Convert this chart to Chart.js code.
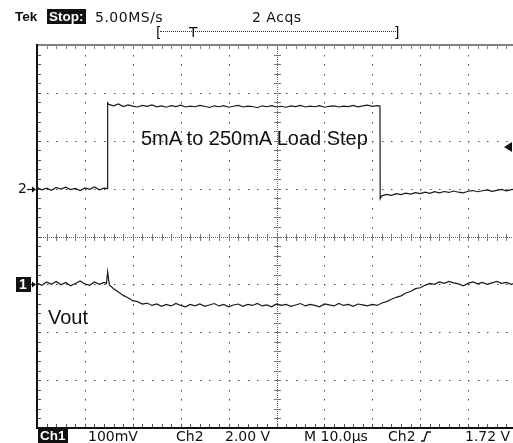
<!DOCTYPE html>
<html>
<head>
<meta charset="utf-8">
<title>Load step response</title>
<script src="https://cdn.jsdelivr.net/npm/chart.js@4.4.0/dist/chart.umd.min.js"></script>
<style>
  html, body { margin: 0; padding: 0; background: #fff; overflow: hidden; }
  #wrap { position: relative; width: 513px; height: 443px; overflow: hidden; }
  #scope { position: absolute; left: 0; top: 0; }
  .ro { position: absolute; font-family: "DejaVu Sans", sans-serif; font-size: 14px; line-height: 14px;
        color: #111; white-space: nowrap; }
  .wide { letter-spacing: 0.5px; }
  .bold { font-family: "Liberation Sans", Arial, sans-serif; font-weight: bold; font-size: 13.5px; }
  .inv { background: #111; color: #fff; padding: 1px 2px 0 2px; }
  .note { position: absolute; font-family: "Liberation Sans", Arial, sans-serif; font-size: 20px;
          line-height: 20px; color: #111; white-space: nowrap; }
  #recbar { position: absolute; left: 160px; top: 31px; width: 236px; border-top: 1px dotted #333; }
</style>
</head>
<body>
<div id="wrap">
  <canvas id="scope" width="530" height="443"></canvas>

  <div class="ro bold" style="left:15px; top:10px;">Tek</div>
  <div class="ro bold inv" style="left:47px; top:9px;">Stop:</div>
  <div class="ro wide" style="left:95px; top:10px;">5.00MS/s</div>
  <div class="ro wide" style="left:252px; top:10px;">2 Acqs</div>
  <div class="ro" style="left:156px; top:25px;">[</div>
  <div id="recbar"></div>
  <div class="ro" style="left:189px; top:25px;">T</div>
  <div class="ro" style="left:394px; top:25px;">]</div>

  <div class="note" style="left:141px; top:128px;">5mA to 250mA Load Step</div>
  <div class="note" style="left:48px; top:307px;">Vout</div>

  <div class="ro bold inv" style="left:38px; top:428px;">Ch1</div>
  <div class="ro" style="left:88px; top:429px;">100mV</div>
  <div class="ro" style="left:176px; top:429px;">Ch2</div>
  <div class="ro" style="left:225px; top:429px;">2.00 V</div>
  <div class="ro" style="left:304px; top:429px;">M 10.0µs</div>
  <div class="ro" style="left:388px; top:429px;">Ch2</div>
  <div class="ro" style="left:465px; top:429px;">1.72 V</div>
</div>

<script>
// time base: 10 µs/div, 10 divisions across the screen
const timeMin = 0;
const timeMax = 100;

// Ch1 (Vout), 100 mV/div, values relative to the Ch1 ground marker
const ch1Time = [
  0, 1, 2, 3, 4, 5, 6, 7, 8, 9, 10, 11, 12, 13, 14, 14.5, 14.75, 15.1,
  16, 17, 18, 19, 20, 21, 22, 23, 24, 25, 26, 27, 28, 29, 30, 31, 32, 33, 34, 35,
  36, 37, 38, 39, 40, 41, 42, 43, 44, 45, 46, 47, 48, 49, 50, 51, 52, 53, 54, 55,
  56, 57, 58, 59, 60, 61, 62, 63, 64, 65, 66, 67, 68, 69, 70, 71,
  72, 73, 74, 75, 76, 77, 78, 79, 80, 81, 82, 83, 84, 85, 86, 87, 88, 89, 90, 91,
  92, 93, 94, 95, 96, 97, 98, 99, 100
];
const ch1Millivolts = [
  3, -2, 5, 0, 6, -1, 4, -3, 2, 7, 1, -2, 5, 0, 4, 2, 26, -1,
  -9, -16, -23, -28, -34, -36, -41, -39, -44, -41, -46, -42, -45, -40, -44, -47, -42, -45, -41, -46,
  -43, -40, -45, -42, -47, -43, -41, -46, -42, -44, -40, -45, -43, -47, -41, -44, -42, -46, -43, -40,
  -45, -42, -44, -47, -41, -43, -45, -40, -44, -42, -46, -41, -43, -45, -42, -44,
  -39, -36, -31, -27, -24, -18, -15, -9, -7, -2, 2, 0, 5, 2, 6, 3, 1, -3, 2, 5,
  1, 4, 0, 3, 6, 2, 4, 0, 3
];

// Ch2 (load step drive), 2 V/div, values relative to the Ch2 ground marker
const ch2Time = [
  0, 1, 2, 3, 4, 5, 6, 7, 8, 9, 10, 11, 12, 13, 14, 14.7, 14.75,
  15, 16, 17, 18, 19, 20, 21, 22, 23, 24, 25, 26, 27, 28, 29, 30, 31, 32, 33, 34,
  35, 36, 37, 38, 39, 40, 41, 42, 43, 44, 45, 46, 47, 48, 49, 50, 51, 52, 53, 54,
  55, 56, 57, 58, 59, 60, 61, 62, 63, 64, 65, 66, 67, 68, 69, 70, 71, 71.6, 71.65,
  72, 73, 74, 75, 76, 77, 78, 79, 80, 81, 82, 83, 84, 85, 86, 87, 88, 89, 90, 91,
  92, 93, 94, 95, 96, 97, 98, 99, 100
];
const ch2Volts = [
  0.04, -0.05, 0.02, -0.07, 0.05, -0.02, 0.06, -0.04, 0.01, -0.08, 0.03, -0.03, 0.07, -0.05, 0.02, 0.0, 3.58,
  3.52, 3.46, 3.54, 3.43, 3.50, 3.45, 3.41, 3.48, 3.44, 3.50, 3.42, 3.46, 3.40, 3.47, 3.43, 3.49, 3.41, 3.45, 3.42, 3.48,
  3.44, 3.39, 3.46, 3.42, 3.47, 3.40, 3.44, 3.48, 3.41, 3.45, 3.43, 3.38, 3.46, 3.42, 3.47, 3.41, 3.44, 3.40, 3.46, 3.43,
  3.48, 3.41, 3.45, 3.42, 3.47, 3.40, 3.44, 3.46, 3.41, 3.45, 3.43, 3.48, 3.42, 3.46, 3.49, 3.44, 3.47, 3.45, -0.42,
  -0.30, -0.24, -0.28, -0.21, -0.25, -0.19, -0.23, -0.17, -0.21, -0.15, -0.20, -0.13, -0.18, -0.12, -0.16, -0.10, -0.15, -0.18, -0.11, -0.08,
  -0.13, -0.09, -0.05, -0.11, -0.07, -0.03, -0.09, -0.04, -0.02
];

// vertical ranges put each channel's ground marker on its graticule line
const ch1Range = { min: -300, max: 500 };  // 8 div x 100 mV
const ch2Range = { min: -10, max: 6 };     // 8 div x 2 V
const triggerLevel = 1.72;                 // Ch2 rising edge

const toPoints = (xs, ys) => xs.map((x, i) => ({ x: x, y: ys[i] }));

// dotted scope graticule: 10 x 8 divisions, 5 minor steps each
const graticule = {
  id: 'graticule',
  beforeDatasetsDraw(chart) {
    const { ctx, chartArea: a, scales } = chart;
    const xs = scales.x, ys = scales.yCh1;
    const minorX = (a.right - a.left) / 50;
    const minorY = (a.bottom - a.top) / 40;
    const cx = Math.round(xs.getPixelForValue(50));
    const cy = Math.round(ys.getPixelForValue(100));
    ctx.save();

    // major division lines as dots on every minor step
    ctx.fillStyle = '#444';
    [10, 20, 30, 40, 60, 70, 80, 90].forEach(t => {
      const x = Math.round(xs.getPixelForValue(t));
      for (let k = 1; k < 40; k++) ctx.fillRect(x, Math.round(a.top + k * minorY), 1, 1.5);
    });
    [-200, -100, 0, 200, 300, 400].forEach(v => {
      const y = Math.round(ys.getPixelForValue(v));
      for (let k = 1; k < 50; k++) ctx.fillRect(Math.round(a.left + k * minorX), y, 1.5, 1);
    });

    // center cross: fine dots plus minor ticks
    ctx.fillStyle = '#666';
    for (let y = a.top; y < a.bottom; y += 2) ctx.fillRect(cx, y, 1, 1);
    for (let x = a.left; x < a.right; x += 2) ctx.fillRect(x, cy, 1, 1);
    ctx.fillStyle = '#777';
    for (let k = 1; k < 40; k++) ctx.fillRect(cx - 3, Math.round(a.top + k * minorY), 7, 1);
    for (let k = 1; k < 50; k++) ctx.fillRect(Math.round(a.left + k * minorX), cy - 3, 1, 7);

    // frame with edge ticks
    ctx.fillStyle = '#808080';
    ctx.fillRect(a.left, a.top - 1, a.right - a.left, 2);
    for (let k = 1; k < 50; k++) ctx.fillRect(Math.round(a.left + k * minorX), a.top, 1, 4);
    ctx.fillStyle = '#111';
    ctx.fillRect(a.left - 1, a.top - 1, 2, a.bottom - a.top + 2);
    ctx.fillRect(a.left, a.bottom - 1, a.right - a.left, 2);
    ctx.fillStyle = '#555';
    for (let k = 1; k < 50; k++) ctx.fillRect(Math.round(a.left + k * minorX), a.bottom - 4, 1, 3);
    for (let k = 1; k < 40; k++) ctx.fillRect(a.left + 1, Math.round(a.top + k * minorY), 3, 1);
    ctx.restore();
  }
};

// channel ground markers, trigger level arrow and trigger slope symbol
const scopeMarks = {
  id: 'scopeMarks',
  afterDatasetsDraw(chart) {
    const { ctx, chartArea: a, scales } = chart;
    const y1 = Math.round(scales.yCh1.getPixelForValue(0));
    const y2 = Math.round(scales.yCh2.getPixelForValue(0));
    const yt = Math.round(scales.yCh2.getPixelForValue(triggerLevel));
    ctx.save();
    ctx.textBaseline = 'middle';
    ctx.font = '14px "DejaVu Sans", sans-serif';

    // "2" marker
    ctx.fillStyle = '#111';
    ctx.fillText('2', 18, y2);
    // "1" marker on a black tag
    ctx.fillRect(16, y1 - 7, 15, 15);
    ctx.fillStyle = '#fff';
    ctx.font = 'bold 14px "Liberation Sans", Arial, sans-serif';
    ctx.fillText('1', 19, y1 + 1);

    ctx.strokeStyle = '#111';
    ctx.fillStyle = '#111';
    ctx.lineWidth = 1.2;
    [[27, y2], [31, y1]].forEach(([x0, y]) => {
      ctx.beginPath();
      ctx.moveTo(x0, y + 0.5);
      ctx.lineTo(a.left - 2, y + 0.5);
      ctx.stroke();
      ctx.beginPath();
      ctx.moveTo(a.left - 1, y + 0.5);
      ctx.lineTo(a.left - 5, y - 2.5);
      ctx.lineTo(a.left - 5, y + 3.5);
      ctx.closePath();
      ctx.fill();
    });

    // trigger level arrow at the right edge
    ctx.beginPath();
    ctx.moveTo(a.right - 12, yt);
    ctx.lineTo(a.right - 4, yt - 5);
    ctx.lineTo(a.right - 4, yt + 5);
    ctx.closePath();
    ctx.fill();

    // rising-edge slope symbol in the readout
    ctx.lineWidth = 1.4;
    ctx.beginPath();
    ctx.moveTo(421, 441);
    ctx.lineTo(424, 441);
    ctx.lineTo(427, 432);
    ctx.lineTo(431, 432);
    ctx.stroke();
    ctx.restore();
  }
};

const traceStyle = {
  borderColor: '#1a1a1a',
  borderWidth: 1.2,
  pointRadius: 0,
  tension: 0,
  fill: false
};

new Chart(document.getElementById('scope').getContext('2d'), {
  type: 'line',
  data: {
    datasets: [
      Object.assign({ label: 'Ch2', data: toPoints(ch2Time, ch2Volts), yAxisID: 'yCh2' }, traceStyle),
      Object.assign({ label: 'Ch1 Vout', data: toPoints(ch1Time, ch1Millivolts), yAxisID: 'yCh1' }, traceStyle)
    ]
  },
  options: {
    responsive: false,
    animation: false,
    devicePixelRatio: 1,
    layout: { padding: { left: 37, top: 45, right: 14, bottom: 15 } },
    plugins: { legend: { display: false }, tooltip: { enabled: false } },
    scales: {
      x: { type: 'linear', min: timeMin, max: timeMax, display: false },
      yCh1: { type: 'linear', min: ch1Range.min, max: ch1Range.max, display: false },
      yCh2: { type: 'linear', min: ch2Range.min, max: ch2Range.max, display: false }
    }
  },
  plugins: [graticule, scopeMarks]
});
</script>
</body>
</html>
